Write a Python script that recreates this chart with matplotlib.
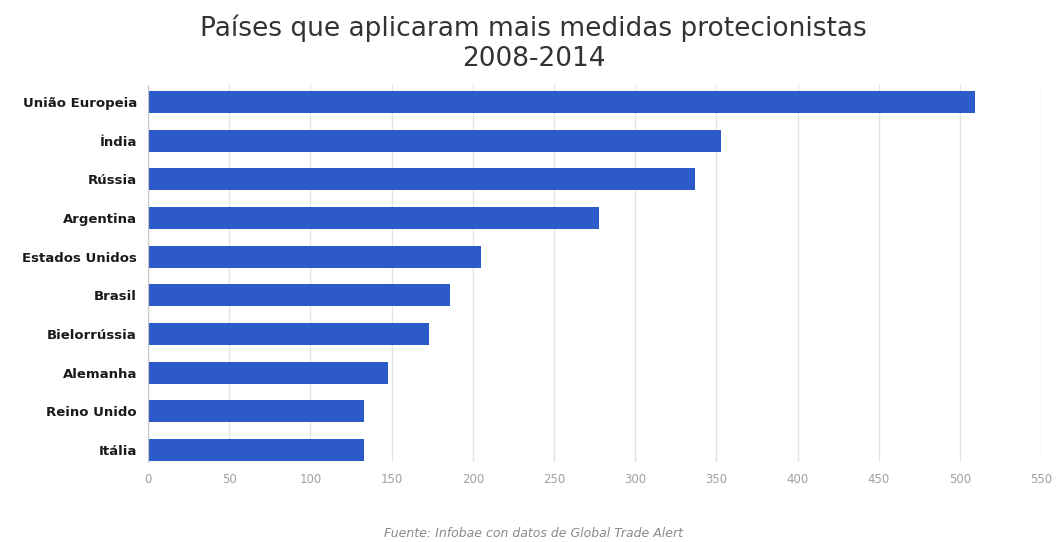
import matplotlib.pyplot as plt

# Protectionist measures by country, 2008-2014
countries = [
    "União Europeia", "Índia", "Rússia", "Argentina", "Estados Unidos",
    "Brasil", "Bielorrússia", "Alemanha", "Reino Unido", "Itália",
]
measures = [509, 353, 337, 278, 205, 186, 173, 148, 133, 133]
xticks = list(range(0, 551, 50))

BAR_BLUE = "#2c5bc9"
GRID_GREY = "#e3e3e3"

fig = plt.figure(figsize=(10.57, 5.42), dpi=100)
ax = fig.add_axes([0.140, 0.148, 0.845, 0.695])

ypos = list(range(len(countries)))
ax.barh(ypos, measures, height=0.57, color=BAR_BLUE, zorder=3)

ax.set_xlim(0, 550)
ax.set_ylim(9.31, -0.44)
ax.set_xticks(xticks)
ax.set_xticklabels([str(t) for t in xticks], color="#a0a0a0", fontsize=8.5)
ax.set_yticks(ypos)
ax.set_yticklabels(countries, fontsize=9.5, fontweight="bold", color="#1a1a1a")
ax.tick_params(axis="both", length=0)
ax.tick_params(axis="x", pad=8)
ax.tick_params(axis="y", pad=8)

ax.grid(axis="x", color=GRID_GREY, linewidth=1, zorder=0)
for side in ("top", "right", "bottom"):
    ax.spines[side].set_visible(False)
ax.spines["left"].set_color("#c8c8c8")
ax.spines["left"].set_zorder(4)

fig.text(0.505, 0.947, "Países que aplicaram mais medidas protecionistas",
         ha="center", va="center", fontsize=19, color="#333333")
fig.text(0.505, 0.891, "2008-2014", ha="center", va="center",
         fontsize=19, color="#333333")
fig.text(0.505, 0.015, "Fuente: Infobae con datos de Global Trade Alert",
         ha="center", va="center", fontsize=9, style="italic", color="#8a8a8a")

fig.savefig("out.png", dpi=100)
